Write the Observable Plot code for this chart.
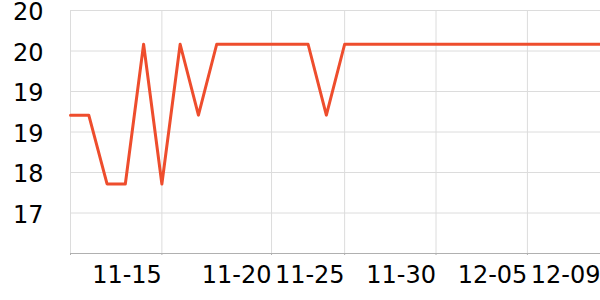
<!DOCTYPE html>
<html>
<head>
<meta charset="utf-8">
<script src="https://cdn.jsdelivr.net/npm/d3@7"></script>
<script src="https://cdn.jsdelivr.net/npm/@observablehq/plot@0.6"></script>
<style>
  html, body { margin: 0; padding: 0; background: #fff; }
  #chart { width: 600px; height: 300px; }
</style>
</head>
<body>
<div id="chart"></div>
<script>
// Data (index along the categorical date axis, temperature-like values)
const idx = [0,1,2,3,4,5,6,7,8,9,10,11,12,13,14,15,16,17,18,19,20,21,22,23,24,25,26,27,28,29];
const values = [18.85,18.85,17.83,17.83,19.9,17.83,19.9,18.85,19.9,19.9,19.9,19.9,19.9,19.9,18.85,19.9,19.9,19.9,19.9,19.9,19.9,19.9,19.9,19.9,19.9,19.9,19.9,19.9,19.9,19.9];
const xTicks = [0,5,11,15,20,25,29];
const xTickLabels = ["","11-15","11-20","11-25","11-30","12-05","12-09"];
const yTicks = [20.4,19.8,19.2,18.6,18.0,17.4];
const yTickLabels = ["20","20","19","19","18","17"];
const yDomain = [16.8, 20.4];

const data = idx.map((i, k) => ({i, v: values[k]}));

const chart = Plot.plot({
  width: 600,
  height: 300,
  marginLeft: 70,
  marginRight: 0,
  marginTop: 10,
  marginBottom: 47,
  style: {fontFamily: "DejaVu Sans", background: "#fff", color: "#000", overflow: "visible"},
  x: {type: "linear", domain: [0, 29], label: null},
  y: {domain: yDomain, label: null},
  marks: [
    Plot.gridY(yTicks, {stroke: "#dcdcdc", strokeOpacity: 1}),
    Plot.gridX(xTicks, {stroke: "#dcdcdc", strokeOpacity: 1}),
    Plot.ruleY([yDomain[0]], {stroke: "#b0b0b0"}),
    Plot.axisX(xTicks, {
      label: null,
      tickSize: 2, tickPadding: 10, stroke: "#b0b0b0",
      tickFormat: (d) => xTickLabels[xTicks.indexOf(d)],
      textAnchor: "end", fontSize: 24, fill: "#000"
    }),
    Plot.axisY(yTicks, {
      label: null,
      tickSize: 0, tickPadding: 27, dy: 2,
      tickFormat: (d) => yTickLabels[yTicks.indexOf(d)],
      fontSize: 24, fill: "#000"
    }),
    Plot.line(data, {x: "i", y: "v", stroke: "#ee4d2d", strokeWidth: 3})
  ]
});
document.getElementById("chart").appendChild(chart);
</script>
</body>
</html>
